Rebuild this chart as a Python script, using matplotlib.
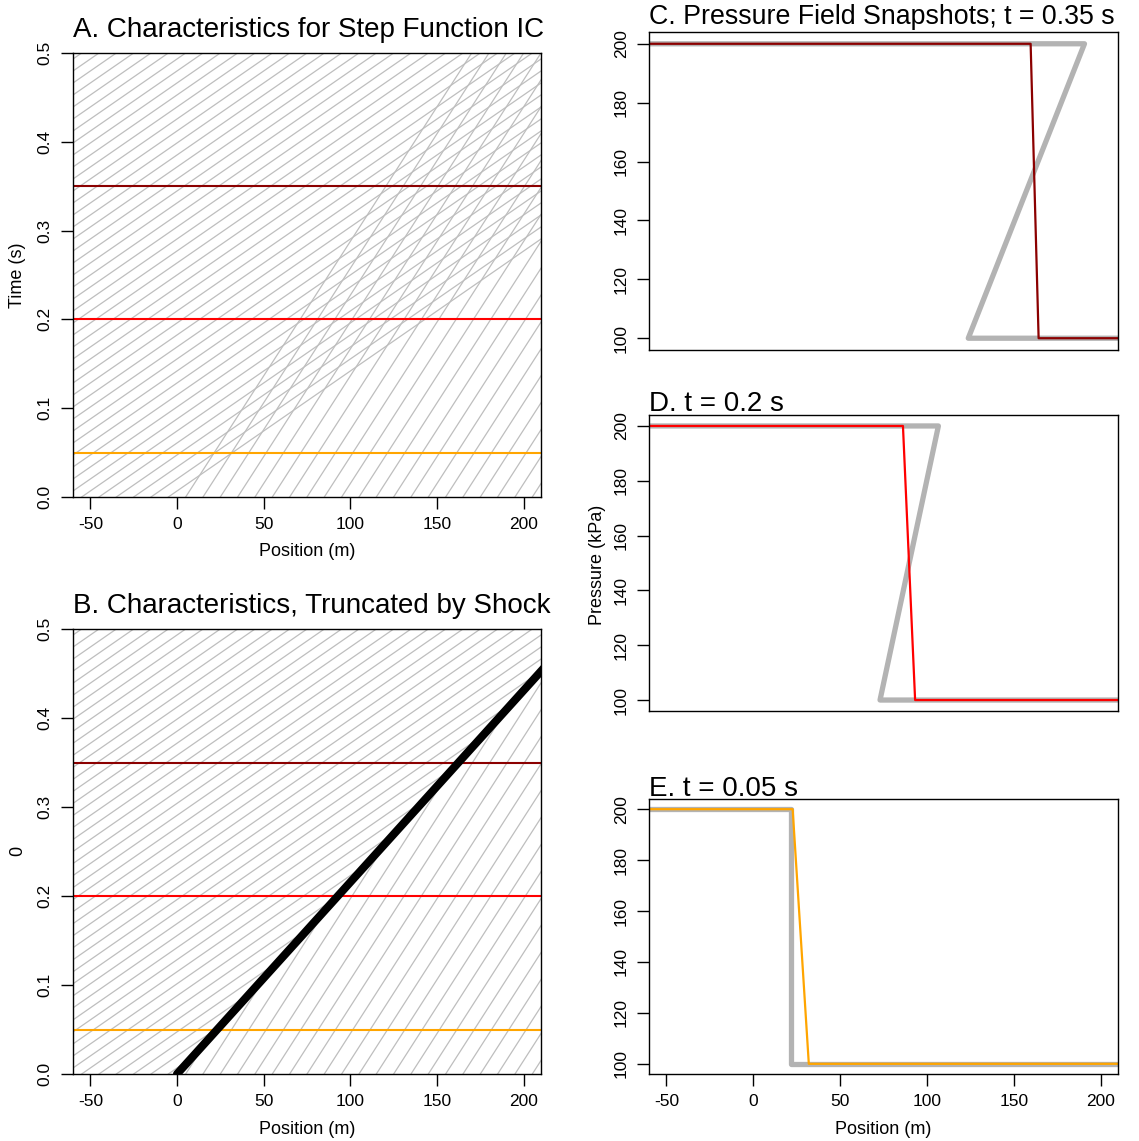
import matplotlib
matplotlib.use("Agg")
import matplotlib.pyplot as plt

plt.rcParams['font.family'] = ['Liberation Sans', 'DejaVu Sans']
plt.rcParams['axes.unicode_minus'] = False

# ---- data ----
# characteristic start positions (m) at t = 0
x0_fast = [-5, -15, -25, -35, -45, -55, -65, -75, -85, -95, -105, -115, -125,
           -135, -145, -155, -165, -175, -185, -195, -205, -215, -225, -235,
           -245, -255, -265, -275, -285, -295, -305, -315, -325, -335, -345,
           -355, -365, -375, -385, -395, -405, -415, -425]
x0_slow = [5, 15, 25, 35, 45, 55, 65, 75, 85, 95, 105, 115, 125, 135, 145,
           155, 165, 175, 185, 195, 205]
c_fast = 740.0    # m/s, lines starting left of the step
c_slow = 330.0    # m/s, lines starting right of the step
shock_speed = 464.0
t_max = 0.5

snap_times = [0.05, 0.2, 0.35]
snap_colors = ['orange', 'red', 'darkred']

# pressure snapshots: x of the profile corners, characteristic solution (gray) and numeric (coloured)
gray_x = {0.35: [-100, 190.7, 123.8, 300], 0.2: [-100, 106.6, 73.0, 300], 0.05: [-100, 21.5, 21.5, 300]}
num_x = {0.35: [-100, 159.7, 164.3, 300], 0.2: [-100, 86.2, 93.2, 300], 0.05: [-100, 22.7, 32.0, 300]}
prof_p = [200, 200, 100, 100]

W, H = 1139, 1141
fig = plt.figure(figsize=(W / 100, H / 100), dpi=100)


def px_axes(left, top, right, bottom):
    return fig.add_axes([left / W, 1 - bottom / H, (right - left) / W, (bottom - top) / H])


def px_text(x, y, s, **kw):
    fig.text(x / W, 1 - y / H, s, **kw)


def style(ax, xticks=True):
    for sp in ax.spines.values():
        sp.set_linewidth(1.0)
    ax.tick_params(direction='out', length=8.6, width=1.0, labelsize=12.5, pad=6)
    ax.tick_params(axis='y', labelrotation=90)
    for lab in ax.get_yticklabels():
        lab.set_va('center')
    if not xticks:
        ax.tick_params(axis='x', bottom=False, labelbottom=False)


def char_axes(ax, truncate):
    gray = dict(color='#BEBEBE', lw=0.9)
    for x0 in x0_fast:
        t_end = t_max
        if truncate:
            t_end = min(t_max, -x0 / (c_fast - shock_speed))
        ax.plot([x0, x0 + c_fast * t_end], [0, t_end], **gray)
    for x0 in x0_slow:
        t_end = t_max
        if truncate:
            t_end = min(t_max, x0 / (shock_speed - c_slow))
        ax.plot([x0, x0 + c_slow * t_end], [0, t_end], **gray)
    for t, col in zip(snap_times, snap_colors):
        ax.axhline(t, color=col, lw=1.5)
    if truncate:
        ax.plot([0, shock_speed * t_max], [0, t_max], color='black', lw=5.8,
                solid_capstyle='round')
    ax.set_xlim(-60, 210)
    ax.set_ylim(0, 0.5)
    ax.set_xticks([-50, 0, 50, 100, 150, 200])
    ax.set_yticks([0, 0.1, 0.2, 0.3, 0.4, 0.5])
    ax.set_yticklabels(['0.0', '0.1', '0.2', '0.3', '0.4', '0.5'])
    style(ax)


axA = px_axes(73, 53, 541, 497)
char_axes(axA, False)
axB = px_axes(73, 629, 541, 1074)
char_axes(axB, True)

right = {0.35: (32, 350), 0.2: (415, 711), 0.05: (799, 1074)}
for t, col in zip(snap_times, snap_colors):
    top, bot = right[t]
    ax = px_axes(649, top, 1118, bot)
    ax.plot(gray_x[t], prof_p, color='#B3B3B3', lw=3.8, solid_joinstyle='round')
    ax.plot(num_x[t], prof_p, color=col, lw=1.6)
    ax.set_xlim(-60, 210)
    ax.set_ylim(96, 204)
    ax.set_xticks([-50, 0, 50, 100, 150, 200])
    ax.set_yticks([100, 120, 140, 160, 180, 200])
    style(ax, xticks=(t == 0.05))

tsize = 20
px_text(73, 37, 'A. Characteristics for Step Function IC', fontsize=tsize, va='baseline')
px_text(73, 613, 'B. Characteristics, Truncated by Shock', fontsize=tsize, va='baseline')
px_text(649, 24.5, 'C. Pressure Field Snapshots; t = 0.35 s', fontsize=19.3, va='baseline')
px_text(649, 411, 'D. t = 0.2 s', fontsize=tsize, va='baseline')
px_text(649, 796, 'E. t = 0.05 s', fontsize=tsize, va='baseline')

lsize = 13
px_text(18, 275, 'Time (s)', fontsize=lsize, rotation=90, ha='center', va='center')
px_text(307, 552, 'Position (m)', fontsize=lsize, ha='center', va='center')
px_text(18, 851, '0', fontsize=lsize, rotation=90, ha='center', va='center')
px_text(307, 1129, 'Position (m)', fontsize=lsize, ha='center', va='center')
px_text(597, 565, 'Pressure (kPa)', fontsize=lsize, rotation=90, ha='center', va='center')
px_text(883, 1129, 'Position (m)', fontsize=lsize, ha='center', va='center')

fig.savefig('out.png', dpi=100)
